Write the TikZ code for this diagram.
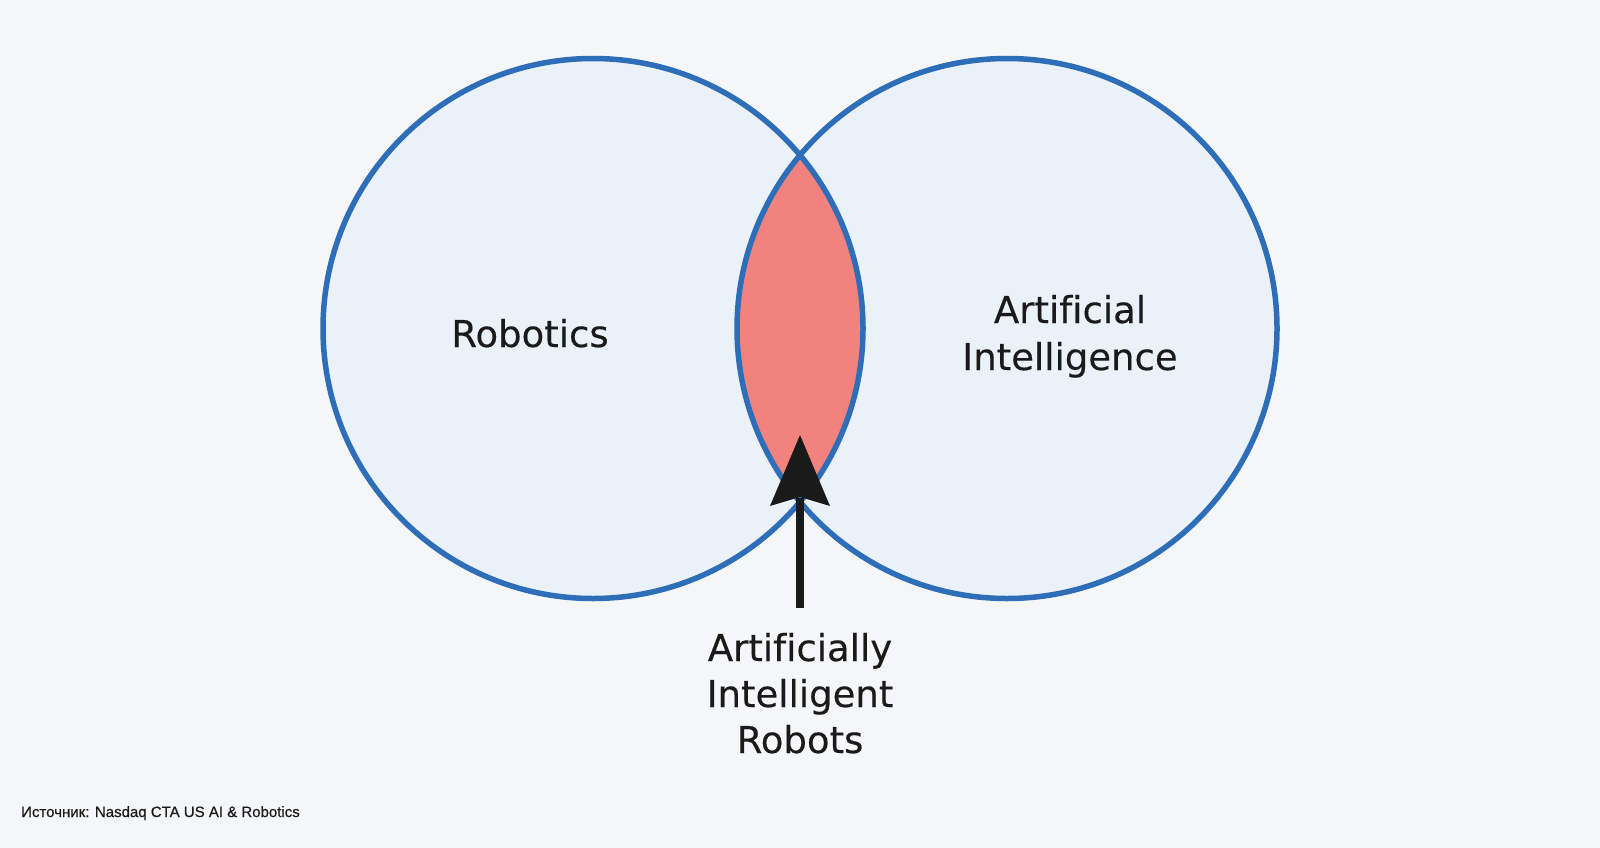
\documentclass[tikz,border=0pt]{standalone}
\usepackage{fontspec}
\setmainfont[Ligatures=NoCommon,FakeBold=0.3]{DejaVu Sans}
\newfontfamily\srcfont[FakeBold=0.6]{Liberation Sans}
\definecolor{bgc}{RGB}{244,246,248}
\definecolor{circfill}{RGB}{234,241,248}
\definecolor{circline}{RGB}{46,110,184}
\definecolor{lensfill}{RGB}{242,130,126}
\definecolor{inkc}{RGB}{26,26,26}
\begin{document}
\begin{tikzpicture}[x=1pt,y=-1pt,
  setcircle/.style={circle,minimum size=540pt,inner sep=0pt,outer sep=0pt},
  biglabel/.style={anchor=base,font=\fontsize{37}{47}\selectfont,text=inkc,inner sep=0pt},
  srclabel/.style={anchor=base west,font=\srcfont\fontsize{15}{18}\selectfont,text=inkc,inner sep=0pt}]
\fill[bgc] (0,0) rectangle (1600,848);
\useasboundingbox (0,0) rectangle (1600,848);
\node[setcircle,fill=circfill] (robo) at (593,328.5) {};
\node[setcircle,fill=circfill] (ai) at (1007,328.5) {};
\begin{scope}
  \clip (593,328.5) circle (270);
  \fill[lensfill] (1007,328.5) circle (270);
\end{scope}
\draw[circline,line width=5.5pt] (robo.center) circle (270);
\draw[circline,line width=5.5pt] (ai.center) circle (270);
\node[biglabel] (robolbl) at (530,347) {Robotics};
\node[biglabel] (ailbl1) at (1070,323) {Artificial};
\node[biglabel] (ailbl2) at (1070,370) {Intelligence};
\node[biglabel] (airlbl1) at (800,661) {Artificially};
\node[biglabel] (airlbl2) at (800,707) {Intelligent};
\node[biglabel] (airlbl3) at (800,753) {Robots};
\coordinate (tail) at (800,608);
\coordinate (shafttop) at (800,498);
\coordinate (tip) at (800,435);
\draw[inkc,line width=8pt] (tail) -- (shafttop);
\fill[inkc] (tip) -- ++(30,71) -- ++(-30,-9) -- ++(-30,9) -- cycle;
\node[srclabel] (src) at (21,817) {Источник: Nasdaq CTA US AI \& Robotics};
\end{tikzpicture}
\end{document}
